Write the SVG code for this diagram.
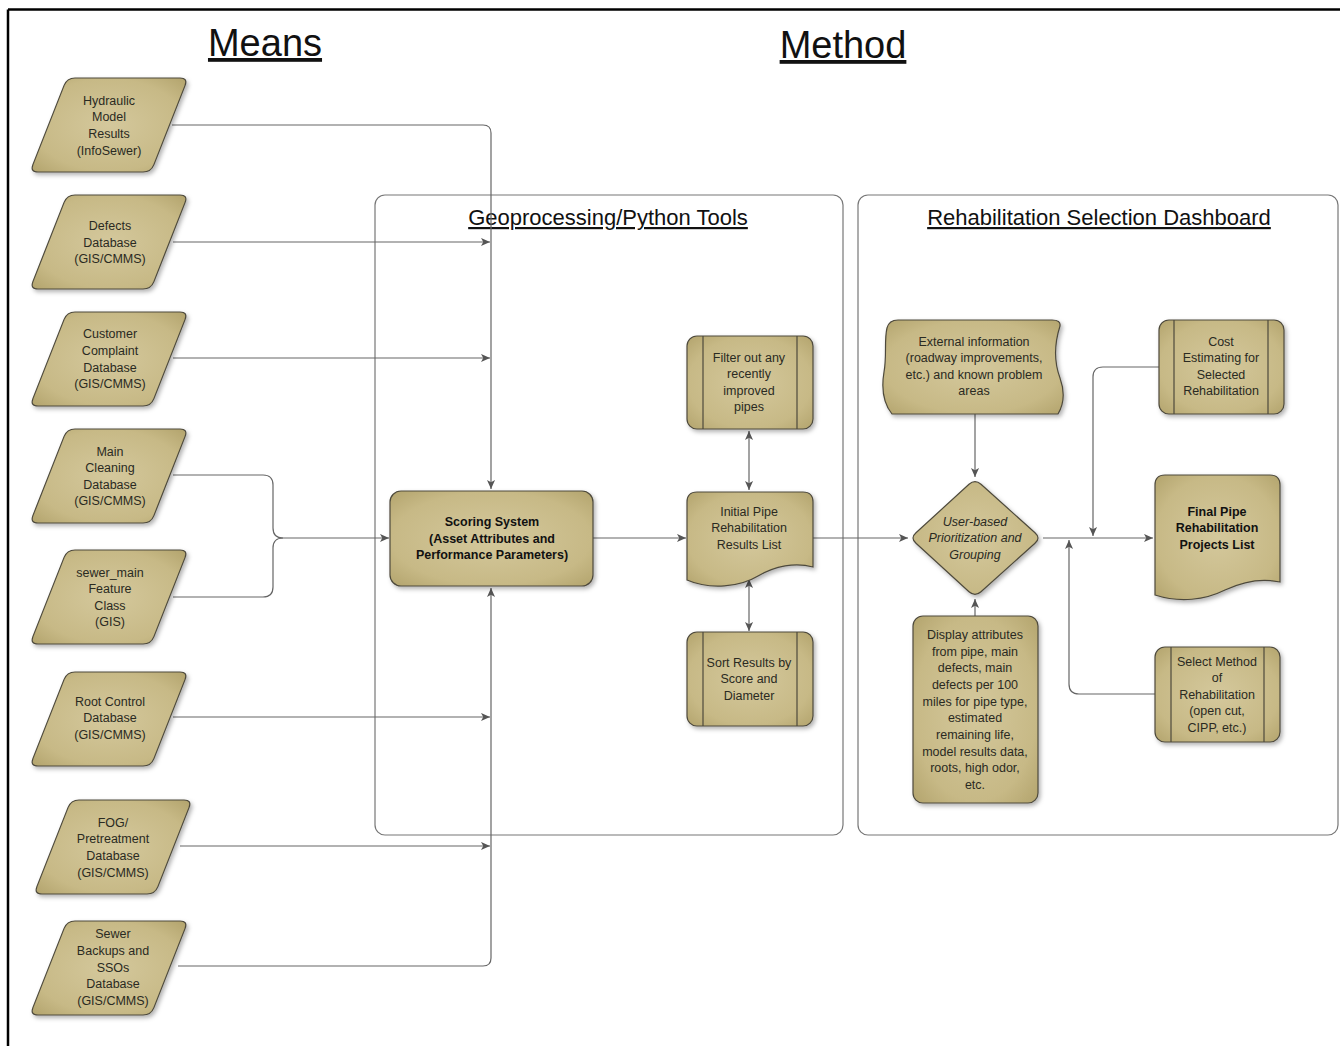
<svg xmlns="http://www.w3.org/2000/svg" width="1340" height="1046" viewBox="0 0 1340 1046">
<defs>
<style>
.t{font-family:"Liberation Sans",Arial,sans-serif;font-size:12.5px;fill:#2a2a22;text-anchor:middle}
.b{font-weight:bold;fill:#111}
.i{font-style:italic}
.h{font-family:"Liberation Sans",Arial,sans-serif;fill:#111;text-anchor:middle;text-decoration:underline}
.shape{fill:url(#tan);stroke:#4e4a3c;stroke-width:1.2;filter:url(#sh)}
.ln{fill:none;stroke:#4e4a3c;stroke-width:1.2}
.c{fill:none;stroke:#666;stroke-width:1.2}
.box{fill:none;stroke:#777;stroke-width:1.2}
</style>
<radialGradient id="tan" cx="50%" cy="50%" r="70%">
<stop offset="0" stop-color="#d4c89c"/>
<stop offset="0.7" stop-color="#c7b986"/>
<stop offset="1" stop-color="#b3a46d"/>
</radialGradient>
<filter id="sh" x="-10%" y="-10%" width="130%" height="130%">
<feDropShadow dx="2" dy="2.5" stdDeviation="2" flood-color="#000" flood-opacity="0.3"/>
</filter>
<marker id="arr" viewBox="0 0 10 10" refX="10" refY="5" markerWidth="9" markerHeight="9" markerUnits="userSpaceOnUse" orient="auto-start-reverse">
<path d="M0,0.5 L10,5 L0,9.5 L2.5,5 Z" fill="#555"/>
</marker>
<path id="para" d="M45,0 L150,0 Q158,0 155.1,7.4 L123.9,86.6 Q121,94 113,94 L8,94 Q0,94 2.9,86.6 L34.1,7.4 Q37,0 45,0 Z"/>
</defs>
<rect width="1340" height="1046" fill="#fff"/>
<path d="M8,9.5 H1340 M8,9.5 V1046" fill="none" stroke="#000" stroke-width="2.5"/>

<text class="h" x="265" y="56" font-size="38">Means</text>
<text class="h" x="843" y="58" font-size="38">Method</text>

<g id="geoprocessing-container">
<rect class="box" x="375" y="195" width="468" height="640" rx="10"/>
<text class="h" x="608" y="225" font-size="22">Geoprocessing/Python Tools</text>
</g>
<g id="dashboard-container">
<rect class="box" x="858" y="195" width="480" height="640" rx="10"/>
<text class="h" x="1099" y="225" font-size="22">Rehabilitation Selection Dashboard</text>
</g>

<g id="connectors">
<path class="c" d="M172,125 H483 Q491,125 491,133 V489" marker-end="url(#arr)"/>
<path class="c" d="M173,242 H490" marker-end="url(#arr)"/>
<path class="c" d="M173,358 H490" marker-end="url(#arr)"/>
<path class="c" d="M173,475 H263 Q273,475 273,485 V528 Q273,538 283,538"/>
<path class="c" d="M173,597 H263 Q273,597 273,587 V548 Q273,538 283,538"/>
<path class="c" d="M283,538 H389" marker-end="url(#arr)"/>
<path class="c" d="M173,717 H490" marker-end="url(#arr)"/>
<path class="c" d="M180,846 H490" marker-end="url(#arr)"/>
<path class="c" d="M178,966 H483 Q491,966 491,958 V588" marker-end="url(#arr)"/>
<path class="c" d="M593,538 H686" marker-end="url(#arr)"/>
<path class="c" d="M749,431 V490" marker-start="url(#arr)" marker-end="url(#arr)"/>
<path class="c" d="M749,579 V631" marker-start="url(#arr)" marker-end="url(#arr)"/>
<path class="c" d="M813,538 H908" marker-end="url(#arr)"/>
<path class="c" d="M975,414 V477" marker-end="url(#arr)"/>
<path class="c" d="M975,616 V599" marker-end="url(#arr)"/>
<path class="c" d="M1043,538 H1153" marker-end="url(#arr)"/>
<path class="c" d="M1159,367 H1103 Q1093,367 1093,377 V536" marker-end="url(#arr)"/>
<path class="c" d="M1155,694 H1079 Q1069,694 1069,684 V540" marker-end="url(#arr)"/>
</g>

<g id="n-hydraulic">
<use href="#para" class="shape" x="30" y="78"/>
<text class="t" x="109" y="104.5">Hydraulic</text>
<text class="t" x="109" y="121">Model</text>
<text class="t" x="109" y="137.5">Results</text>
<text class="t" x="109" y="154.5">(InfoSewer)</text>
</g>
<g id="n-defects">
<use href="#para" class="shape" x="30" y="195"/>
<text class="t" x="110" y="229.5">Defects</text>
<text class="t" x="110" y="246.5">Database</text>
<text class="t" x="110" y="262.5">(GIS/CMMS)</text>
</g>
<g id="n-complaint">
<use href="#para" class="shape" x="30" y="312"/>
<text class="t" x="110" y="337.5">Customer</text>
<text class="t" x="110" y="354.5">Complaint</text>
<text class="t" x="110" y="371.5">Database</text>
<text class="t" x="110" y="387.5">(GIS/CMMS)</text>
</g>
<g id="n-cleaning">
<use href="#para" class="shape" x="30" y="429"/>
<text class="t" x="110" y="455.5">Main</text>
<text class="t" x="110" y="471.5">Cleaning</text>
<text class="t" x="110" y="488.5">Database</text>
<text class="t" x="110" y="505">(GIS/CMMS)</text>
</g>
<g id="n-sewermain">
<use href="#para" class="shape" x="30" y="550"/>
<text class="t" x="110" y="576.5">sewer_main</text>
<text class="t" x="110" y="592.5">Feature</text>
<text class="t" x="110" y="609.5">Class</text>
<text class="t" x="110" y="625.5">(GIS)</text>
</g>
<g id="n-root">
<use href="#para" class="shape" x="30" y="672"/>
<text class="t" x="110" y="705.5">Root Control</text>
<text class="t" x="110" y="721.5">Database</text>
<text class="t" x="110" y="738.5">(GIS/CMMS)</text>
</g>
<g id="n-fog">
<use href="#para" class="shape" x="34" y="800"/>
<text class="t" x="113" y="826.5">FOG/</text>
<text class="t" x="113" y="842.5">Pretreatment</text>
<text class="t" x="113" y="859.5">Database</text>
<text class="t" x="113" y="876.5">(GIS/CMMS)</text>
</g>
<g id="n-backups">
<use href="#para" class="shape" x="30" y="921"/>
<text class="t" x="113" y="937.5">Sewer</text>
<text class="t" x="113" y="954.5">Backups and</text>
<text class="t" x="113" y="971.5">SSOs</text>
<text class="t" x="113" y="987.5">Database</text>
<text class="t" x="113" y="1004.5">(GIS/CMMS)</text>
</g>

<g id="n-scoring">
<rect class="shape" x="390" y="491" width="203" height="95" rx="11"/>
<text class="t b" x="492" y="526">Scoring System</text>
<text class="t b" x="492" y="542.5">(Asset Attributes and</text>
<text class="t b" x="492" y="559">Performance Parameters)</text>
</g>

<g id="n-filter">
<rect class="shape" x="687" y="336" width="126" height="93" rx="10"/>
<path class="ln" d="M703,336 V429 M797,336 V429"/>
<text class="t" x="749" y="361.5">Filter out any</text>
<text class="t" x="749" y="378">recently</text>
<text class="t" x="749" y="394.5">improved</text>
<text class="t" x="749" y="411">pipes</text>
</g>

<g id="n-initial">
<path class="shape" d="M697,492 H803 Q813,492 813,502 V567 C795,562 775,566 758,576 C740,587 710,590 687,580 V502 Q687,492 697,492 Z"/>
<text class="t" x="749" y="515.5">Initial Pipe</text>
<text class="t" x="749" y="532">Rehabilitation</text>
<text class="t" x="749" y="548.5">Results List</text>
</g>

<g id="n-sort">
<rect class="shape" x="687" y="632" width="126" height="94" rx="10"/>
<path class="ln" d="M703,632 V726 M797,632 V726"/>
<text class="t" x="749" y="666.5">Sort Results by</text>
<text class="t" x="749" y="683">Score and</text>
<text class="t" x="749" y="699.5">Diameter</text>
</g>

<g id="n-external">
<path class="shape" d="M898,320 H1052 Q1061,320 1060,326 C1054,345 1054,362 1060,378 C1065,392 1064,404 1058,414 H892 C884,404 881,390 884,372 C887,356 884,340 887,328 Q889,320 898,320 Z"/>
<text class="t" x="974" y="345.5">External  information</text>
<text class="t" x="974" y="362">(roadway improvements,</text>
<text class="t" x="974" y="378.5">etc.)  and known problem</text>
<text class="t" x="974" y="395">areas</text>
</g>

<g id="n-decision">
<path class="shape" d="M981,484.3 L1035,532.7 Q1041,538 1035,543.3 L981,591.7 Q975,597 969,591.7 L916,543.3 Q910,538 916,532.7 L969,484.3 Q975,479 981,484.3 Z"/>
<text class="t i" x="975" y="525.5">User-based</text>
<text class="t i" x="975" y="542">Prioritization and</text>
<text class="t i" x="975" y="559">Grouping</text>
</g>

<g id="n-display">
<rect class="shape" x="913" y="616" width="125" height="187" rx="10"/>
<text class="t" x="975" y="639">Display attributes</text>
<text class="t" x="975" y="655.5">from pipe, main</text>
<text class="t" x="975" y="672">defects, main</text>
<text class="t" x="975" y="689">defects per 100</text>
<text class="t" x="975" y="705.5">miles for pipe type,</text>
<text class="t" x="975" y="722">estimated</text>
<text class="t" x="975" y="739">remaining life,</text>
<text class="t" x="975" y="755.5">model results data,</text>
<text class="t" x="975" y="772">roots, high odor,</text>
<text class="t" x="975" y="789">etc.</text>
</g>

<g id="n-cost">
<rect class="shape" x="1159" y="320" width="125" height="94" rx="10"/>
<path class="ln" d="M1174,320 V414 M1268,320 V414"/>
<text class="t" x="1221" y="345.5">Cost</text>
<text class="t" x="1221" y="362">Estimating for</text>
<text class="t" x="1221" y="378.5">Selected</text>
<text class="t" x="1221" y="395">Rehabilitation</text>
</g>

<g id="n-final">
<path class="shape" d="M1165,475 H1270 Q1280,475 1280,485 V582 C1262,578 1242,582 1225,590 C1205,600 1180,603 1155,595 V485 Q1155,475 1165,475 Z"/>
<text class="t b" x="1217" y="515.5">Final Pipe</text>
<text class="t b" x="1217" y="532">Rehabilitation</text>
<text class="t b" x="1217" y="548.5">Projects List</text>
</g>

<g id="n-select">
<rect class="shape" x="1155" y="647" width="125" height="95" rx="10"/>
<path class="ln" d="M1171,647 V742 M1264,647 V742"/>
<text class="t" x="1217" y="665.5">Select Method</text>
<text class="t" x="1217" y="682">of</text>
<text class="t" x="1217" y="698.5">Rehabilitation</text>
<text class="t" x="1217" y="715">(open cut,</text>
<text class="t" x="1217" y="732">CIPP, etc.)</text>
</g>
</svg>
